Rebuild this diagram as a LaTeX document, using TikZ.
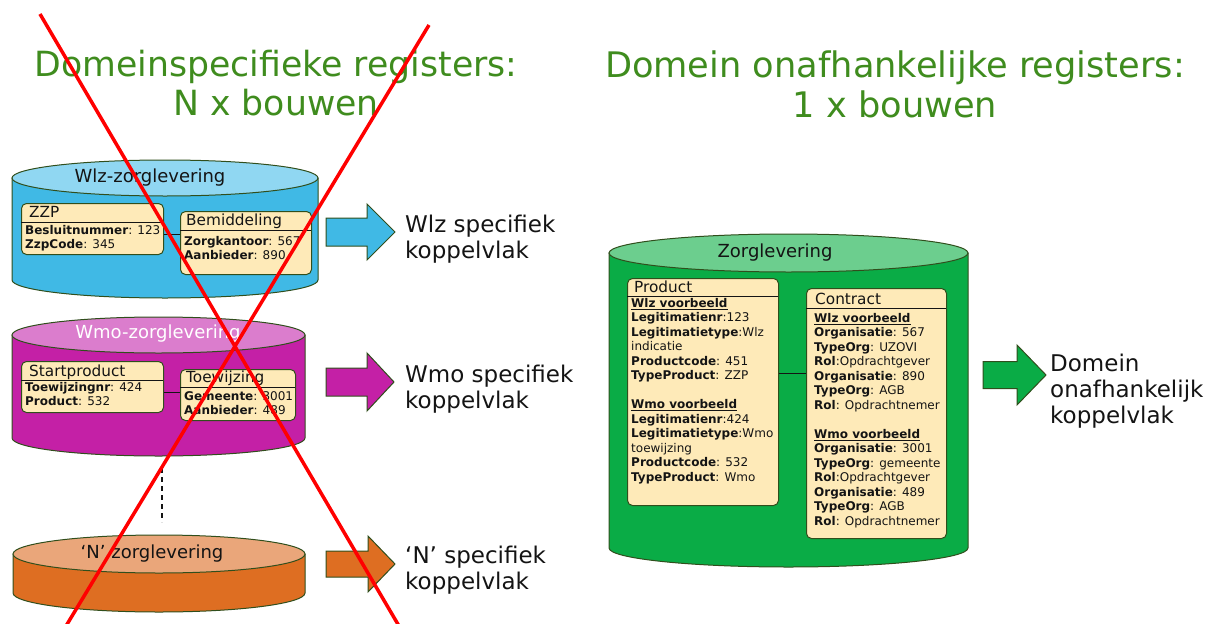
\documentclass[tikz,border=0pt]{standalone}
\usepackage{fontspec}
\setmainfont{DejaVu Sans}
\usetikzlibrary{calc}
\definecolor{titlegreen}{RGB}{63,140,30}
\definecolor{edge}{RGB}{48,78,28}
\definecolor{wlzbody}{RGB}{64,185,229}
\definecolor{wlztop}{RGB}{144,215,242}
\definecolor{wmobody}{RGB}{196,32,166}
\definecolor{wmotop}{RGB}{219,125,205}
\definecolor{nbody}{RGB}{222,110,34}
\definecolor{ntop}{RGB}{234,166,122}
\definecolor{zbody}{RGB}{10,172,70}
\definecolor{ztop}{RGB}{108,206,142}
\definecolor{boxfill}{RGB}{254,234,184}
\definecolor{ink}{RGB}{20,20,20}
\newcommand{\mycyl}[7]{%
  \pgfmathsetmacro{\cylcx}{(#1+#2)/2}%
  \pgfmathsetmacro{\cylrx}{(#2-#1)/2}%
  \filldraw[draw=edge, fill=#6, line width=1pt] (#1,#3) -- (#1,#4) arc[start angle=180, end angle=0, x radius=\cylrx, y radius=#5] -- (#2,#3) -- cycle;
  \filldraw[draw=edge, fill=#7, line width=1pt] (\cylcx,#3) ellipse[x radius=\cylrx, y radius=#5];
}
\newcommand{\myarrow}[7]{% xs, xh, xt, yc, h1, h2, color
  \filldraw[draw=edge, fill=#7, line width=1pt]
    (#1,#4-#5) -- (#2,#4-#5) -- (#2,#4-#6) -- (#3,#4) -- (#2,#4+#6) -- (#2,#4+#5) -- (#1,#4+#5) -- cycle;
}
\newcommand{\ul}[1]{\underline{\textbf{#1}}}
\begin{document}
\begin{tikzpicture}[x=1pt,y=-1pt,
  rec/.style={draw=edge, fill=boxfill, line width=1pt, rounded corners=5pt, anchor=north west, inner sep=0pt},
  hline/.style={draw=ink, line width=0.9pt},
  conn/.style={draw=ink, line width=1pt},
  hdr/.style={anchor=base west, inner sep=0pt, text=ink, font=\fontsize{15.3}{17}\selectfont},
  txt/.style={anchor=north west, inner sep=0pt, align=left, text=ink, font=\fontsize{12}{14.5}\selectfont},
  title/.style={inner sep=0pt, text=titlegreen, anchor=base},
  cyllabel/.style={inner sep=0pt, font=\fontsize{18}{20}\selectfont},
  koppel/.style={anchor=base west, inner sep=0pt, align=left, text=ink, font=\fontsize{23}{26}\selectfont},
  redx/.style={draw=red, line width=3.5pt}
]
\useasboundingbox (0,0) rectangle (1224,624);

% titles
\node[title, font=\fontsize{34.7}{40}\selectfont] (t1) at (276,76) {Domeinspecifieke registers:};
\node[title, font=\fontsize{34.7}{40}\selectfont] (t2) at (276,115) {N x bouwen};
\node[title, font=\fontsize{35.2}{40}\selectfont] (t3) at (895,77) {Domein onafhankelijke registers:};
\node[title, font=\fontsize{35.2}{40}\selectfont] (t4) at (895,117) {1 x bouwen};

% ---------- Wlz ----------
\mycyl{12}{318}{178}{280}{18}{wlzbody}{wlztop}
\node[cyllabel, text=ink] (wlzl) at (150,178) {Wlz-zorglevering};
\node[rec, minimum width=142pt, minimum height=51pt] (zzp) at (21,203) {};
\draw[hline] (21,222) -- (163,222);
\node[hdr] (zzph) at (29,217.5) {ZZP};
\node[txt] (zzpt) at (25,225) {\textbf{Besluitnummer}: 123\\\textbf{ZzpCode}: 345};
\node[rec, minimum width=131pt, minimum height=63pt] (bem) at (180,211) {};
\draw[hline] (180,230) -- (311,230);
\node[hdr] (bemh) at (186,225.5) {Bemiddeling};
\node[txt] (bemt) at (184,236) {\textbf{Zorgkantoor}: 567\\\textbf{Aanbieder}: 890};
\coordinate (y1) at (0,234);
\draw[conn] (zzp.east |- y1) -- (bem.west |- y1);
\myarrow{326}{367}{395}{232}{14}{28}{wlzbody}
\node[koppel] (k1) at (405,258) {Wlz specifiek\\koppelvlak};

% ---------- Wmo ----------
\mycyl{12}{305}{335}{438}{18}{wmobody}{wmotop}
\node[cyllabel, text=white] (wmol) at (158,334) {Wmo-zorglevering};
\node[rec, minimum width=142pt, minimum height=51pt] (start) at (21,361) {};
\draw[hline] (21,380) -- (163,380);
\node[hdr] (starth) at (29,376.5) {Startproduct};
\node[txt] (startt) at (25,382) {\textbf{Toewijzingnr}: 424\\\textbf{Product}: 532};
\node[rec, minimum width=115pt, minimum height=51pt] (toew) at (180,369) {};
\draw[hline] (180,387) -- (295,387);
\node[hdr] (toewh) at (186,382.5) {Toewijzing};
\node[txt] (toewt) at (184,391) {\textbf{Gemeente}: 3001\\\textbf{Aanbieder}: 489};
\coordinate (y2) at (0,392);
\draw[conn] (start.east |- y2) -- (toew.west |- y2);
\myarrow{326}{367}{394}{382}{14}{29}{wmobody}
\node[koppel] (k2) at (405,408) {Wmo specifiek\\koppelvlak};

% dashed
\coordinate (d1) at (162,468);
\coordinate (d2) at (162,522);
\draw[ink, line width=1.2pt, dash pattern=on 5pt off 4pt] (d1) -- (d2);

% ---------- N ----------
\mycyl{13}{305}{554}{593}{19}{nbody}{ntop}
\node[cyllabel, text=ink] (nl) at (152,554) {‘N’ zorglevering};
\myarrow{326}{368}{395}{564}{13}{28}{nbody}
\node[koppel] (k3) at (405,589) {‘N’ specifiek\\koppelvlak};

% ---------- Zorglevering ----------
\mycyl{609}{968}{253}{548}{19}{zbody}{ztop}
\node[cyllabel, text=ink] (zl) at (775,253) {Zorglevering};
\node[rec, minimum width=151pt, minimum height=227pt] (prod) at (627,278) {};
\draw[hline] (627,296) -- (778,296);
\node[hdr] (prodh) at (634,292.5) {Product};
\node[txt] (prodt) at (631,298) {%
\ul{Wlz voorbeeld}\\
\textbf{Legitimatienr}:123\\
\textbf{Legitimatietype}:Wlz\\
indicatie\\
\textbf{Productcode}: 451\\
\textbf{TypeProduct}: ZZP\\[14.5pt]
\ul{Wmo voorbeeld}\\
\textbf{Legitimatienr}:424\\
\textbf{Legitimatietype}:Wmo\\
toewijzing\\
\textbf{Productcode}: 532\\
\textbf{TypeProduct}: Wmo};
\node[rec, minimum width=140pt, minimum height=250pt] (contr) at (806,288) {};
\draw[hline] (806,308) -- (946,308);
\node[hdr] (contrh) at (815,304.5) {Contract};
\node[txt] (contrt) at (814,313) {%
\ul{Wlz voorbeeld}\\
\textbf{Organisatie}: 567\\
\textbf{TypeOrg}: UZOVI\\
\textbf{Rol}:Opdrachtgever\\
\textbf{Organisatie}: 890\\
\textbf{TypeOrg}: AGB\\
\textbf{Rol}: Opdrachtnemer\\[14.5pt]
\ul{Wmo voorbeeld}\\
\textbf{Organisatie}: 3001\\
\textbf{TypeOrg}: gemeente\\
\textbf{Rol}:Opdrachtgever\\
\textbf{Organisatie}: 489\\
\textbf{TypeOrg}: AGB\\
\textbf{Rol}: Opdrachtnemer};
\coordinate (y3) at (0,373);
\draw[conn] (prod.east |- y3) -- (contr.west |- y3);
\myarrow{983}{1017}{1046}{375}{13.5}{30}{zbody}
\node[koppel] (k4) at (1050,423) {Domein\\onafhankelijk\\koppelvlak};

% red cross
\coordinate (r1a) at (40,14);
\coordinate (r1b) at (399,626);
\coordinate (r2a) at (429,25);
\coordinate (r2b) at (66,626);
\draw[redx] (r1a) -- (r1b);
\draw[redx] (r2a) -- (r2b);
\end{tikzpicture}
\end{document}
